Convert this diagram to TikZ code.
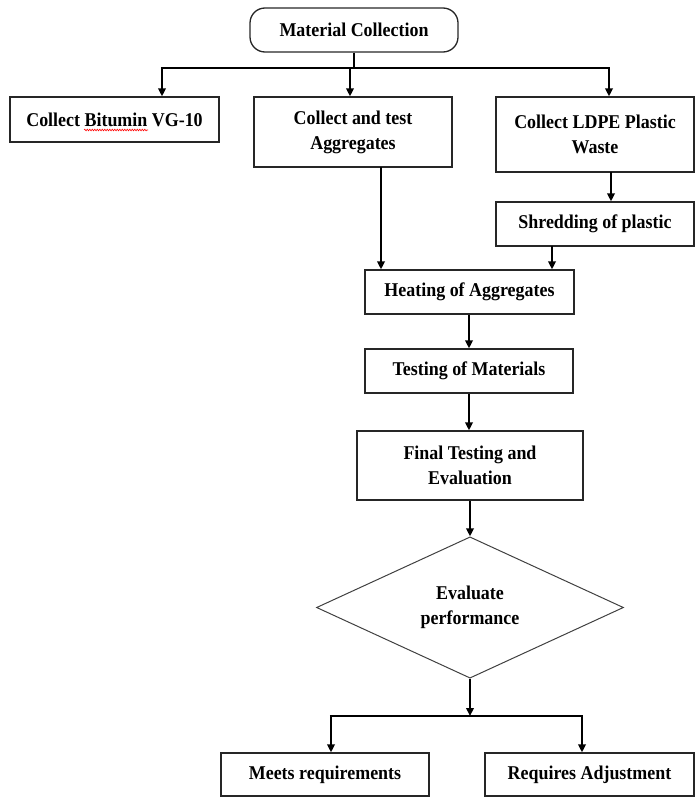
\documentclass[tikz,border=0pt]{standalone}
\usepackage{fontspec}
\setmainfont{Liberation Serif}[FakeStretch=0.92]
\usetikzlibrary{arrows.meta,shapes.geometric,decorations.pathmorphing}
\tikzset{
  box/.style={draw=black!85, line width=1.3pt, rectangle, inner sep=0pt, align=center,
    font=\fontsize{19.5}{25}\selectfont\bfseries},
  conn/.style={line width=2.4pt, black},
  arr/.style={conn, -{Triangle[length=8pt,width=7.5pt]}},
}
\begin{document}
\begin{tikzpicture}[x=1pt,y=-1pt]
\useasboundingbox (0,0) rectangle (696,797);
% nodes
\node[box, rounded corners=15pt, minimum width=208pt, minimum height=44pt] (mc) at (354,30) {Material Collection};
\node[box, minimum width=209pt, minimum height=45pt] (bit) at (114.5,119.5) {Collect Bitumin VG-10};
\node[box, minimum width=198pt, minimum height=70pt] (agg) at (353,132) {Collect and test\\Aggregates};
\node[box, minimum width=198pt, minimum height=75pt] (ldpe) at (595,134.5) {Collect LDPE Plastic\\Waste};
\node[box, minimum width=198pt, minimum height=44pt] (shred) at (595,224) {Shredding of plastic};
\node[box, minimum width=209pt, minimum height=44pt] (heat) at (469.5,292) {Heating of Aggregates};
\node[box, minimum width=208pt, minimum height=44pt] (test) at (469,371) {Testing of Materials};
\node[box, minimum width=226pt, minimum height=69pt] (final) at (470,465.5) {Final Testing and\\Evaluation};
\node[box, draw=black!75, line width=1pt, diamond, minimum width=307pt, minimum height=141pt] (eval) at (470,607.5) {Evaluate\\performance};
\node[box, minimum width=208pt, minimum height=43pt] (meets) at (325,774.5) {Meets requirements};
\node[box, minimum width=209pt, minimum height=43pt] (req) at (589.5,774.5) {Requires Adjustment};
% spell-check underline
\draw[red, line width=0.6pt, decorate, decoration={snake, amplitude=0.8pt, segment length=2.5pt}] (84,130) -- (148,130);
% top bus
\coordinate (bus) at (354,68);
\coordinate (b1) at (162,68);
\coordinate (b2) at (350,68);
\coordinate (b3) at (609,68);
\draw[conn] (mc.south) -- (bus);
\draw[conn] ([xshift=-1.2pt]b1) -- ([xshift=1.2pt]b3);
\draw[arr] (b1) -- (b1 |- bit.north);
\draw[arr] (b2) -- (b2 |- agg.north);
\draw[arr] (b3) -- (b3 |- ldpe.north);
% middle
\coordinate (a1) at (381,167);
\draw[arr] (a1) -- (a1 |- heat.north);
\coordinate (l1) at (611,172);
\draw[arr] (l1) -- (l1 |- shred.north);
\coordinate (s1) at (552,246);
\draw[arr] (s1) -- (s1 |- heat.north);
\draw[arr] (heat.south -| test.north) -- (test.north);
\draw[arr] (test.south) -- (test.south |- final.north);
\draw[arr] (final.south) -- (eval.north);
% bottom bus
\coordinate (bb) at (470,716);
\coordinate (m1) at (331,716);
\coordinate (r1) at (582,716);
\draw[arr] (eval.south) -- (bb);
\draw[conn] ([xshift=-1.2pt]m1) -- ([xshift=1.2pt]r1);
\draw[arr] (m1) -- (m1 |- meets.north);
\draw[arr] (r1) -- (r1 |- req.north);
\end{tikzpicture}
\end{document}
